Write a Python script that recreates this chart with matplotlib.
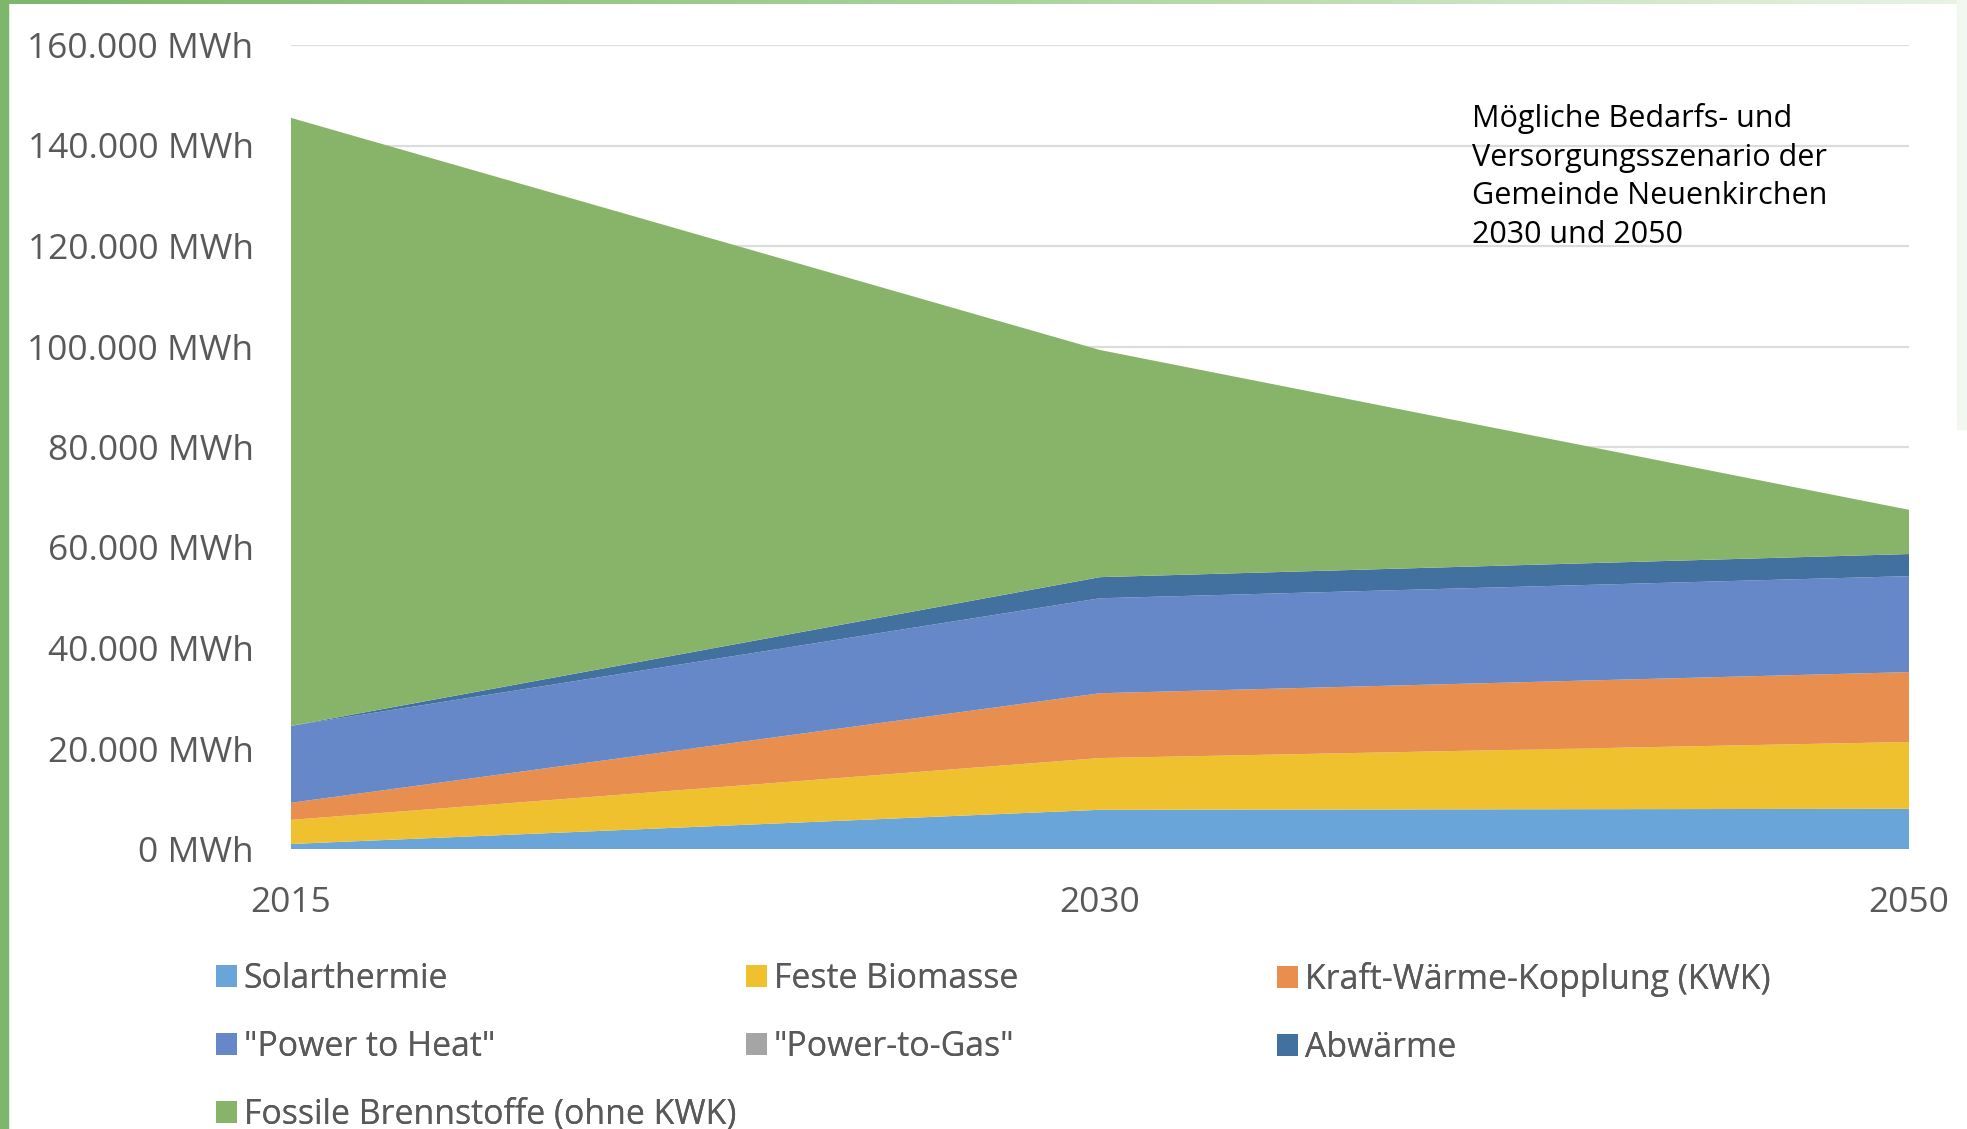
import numpy as np
import matplotlib.pyplot as plt
from matplotlib.patches import Rectangle
from matplotlib.ticker import FuncFormatter, MultipleLocator

# Jahre (Kategorieachse)
years = ["2015", "2030", "2050"]

# Werte in MWh
solarthermie = [1000, 7800, 8000]
feste_biomasse = [4800, 10300, 13300]
kwk = [3400, 12900, 13900]
power_to_heat = [15300, 18900, 19100]
power_to_gas = [0, 0, 0]
abwaerme = [0, 4200, 4400]
fossile = [121000, 45200, 8800]

labels = ["Solarthermie", "Feste Biomasse", "Kraft-Wärme-Kopplung (KWK)",
          '"Power to Heat"', '"Power-to-Gas"', "Abwärme",
          "Fossile Brennstoffe (ohne KWK)"]
colors = ["#6AA5D9", "#EFC12E", "#E88E4E", "#6688C8", "#A5A5A5", "#43719F", "#88B46A"]

note = "Mögliche Bedarfs- und\nVersorgungsszenario der\nGemeinde Neuenkirchen\n2030 und 2050"

plt.rcParams['font.family'] = ['Open Sans', 'DejaVu Sans']

W, H = 1967, 1129
fig = plt.figure(figsize=(W / 100, H / 100), dpi=100)
fig.patch.set_facecolor("white")

# gruener Rahmen links / oben / rechts
fig.patches.append(Rectangle((0, 0), 8 / W, 1, transform=fig.transFigure,
                             color="#7DB76B", zorder=0))
top = fig.add_axes([0, 1 - 4 / H, 1, 4 / H])
top.imshow(np.linspace(0, 1, 256)[None, :], aspect="auto",
           cmap=plt.matplotlib.colors.LinearSegmentedColormap.from_list(
               "g", ["#7DB76B", "#A9D39A", "#E8F3E3"]))
top.axis("off")
fig.patches.append(Rectangle((1 - 10 / W, 0.62), 10 / W, 0.38, transform=fig.transFigure,
                             color="#F2F8EF", zorder=0))

ax = fig.add_axes([291 / W, (H - 849) / H, (1909 - 291) / W, (849 - 45) / H])
x = np.arange(len(years))
series = [solarthermie, feste_biomasse, kwk, power_to_heat, power_to_gas, abwaerme, fossile]
polys = ax.stackplot(x, *series, colors=colors, labels=labels, zorder=2, linewidth=0)

ax.set_xlim(0, 2)
ax.set_ylim(0, 160000)
ax.yaxis.set_major_locator(MultipleLocator(20000))
ax.yaxis.set_major_formatter(FuncFormatter(lambda v, p: f"{int(v):,}".replace(",", ".") + " MWh"))
ax.set_xticks(x)
ax.set_xticklabels(years)
ax.grid(axis="y", color="#DCDCDC", linewidth=1.6, zorder=0)
ax.set_axisbelow(True)
for s in ax.spines.values():
    s.set_visible(False)
ax.tick_params(length=0, labelsize=25.5, labelcolor="#595959")
ax.tick_params(axis="y", pad=27)
ax.tick_params(axis="x", pad=27)

fig.text(1472 / W, 1 - 103 / H, note, fontsize=22,
         color="black", va="top", ha="left", linespacing=1.37)

# Legende: drei Spalten mit festen Abstaenden wie in Excel
cols = [[0, 3, 6], [1, 4], [2, 5]]
col_x = [216, 746, 1277]
for cx, idx in zip(col_x, cols):
    leg = fig.legend([polys[i] for i in idx], [labels[i] for i in idx],
                     loc="upper left", bbox_to_anchor=(cx / W, (H - 962) / H),
                     frameon=False, fontsize=24.4, labelcolor="#595959",
                     handlelength=0.62, handleheight=0.6, handletextpad=0.2,
                     labelspacing=1.0, borderaxespad=0, borderpad=0)
    fig.add_artist(leg)

fig.savefig("out.png", dpi=100)
